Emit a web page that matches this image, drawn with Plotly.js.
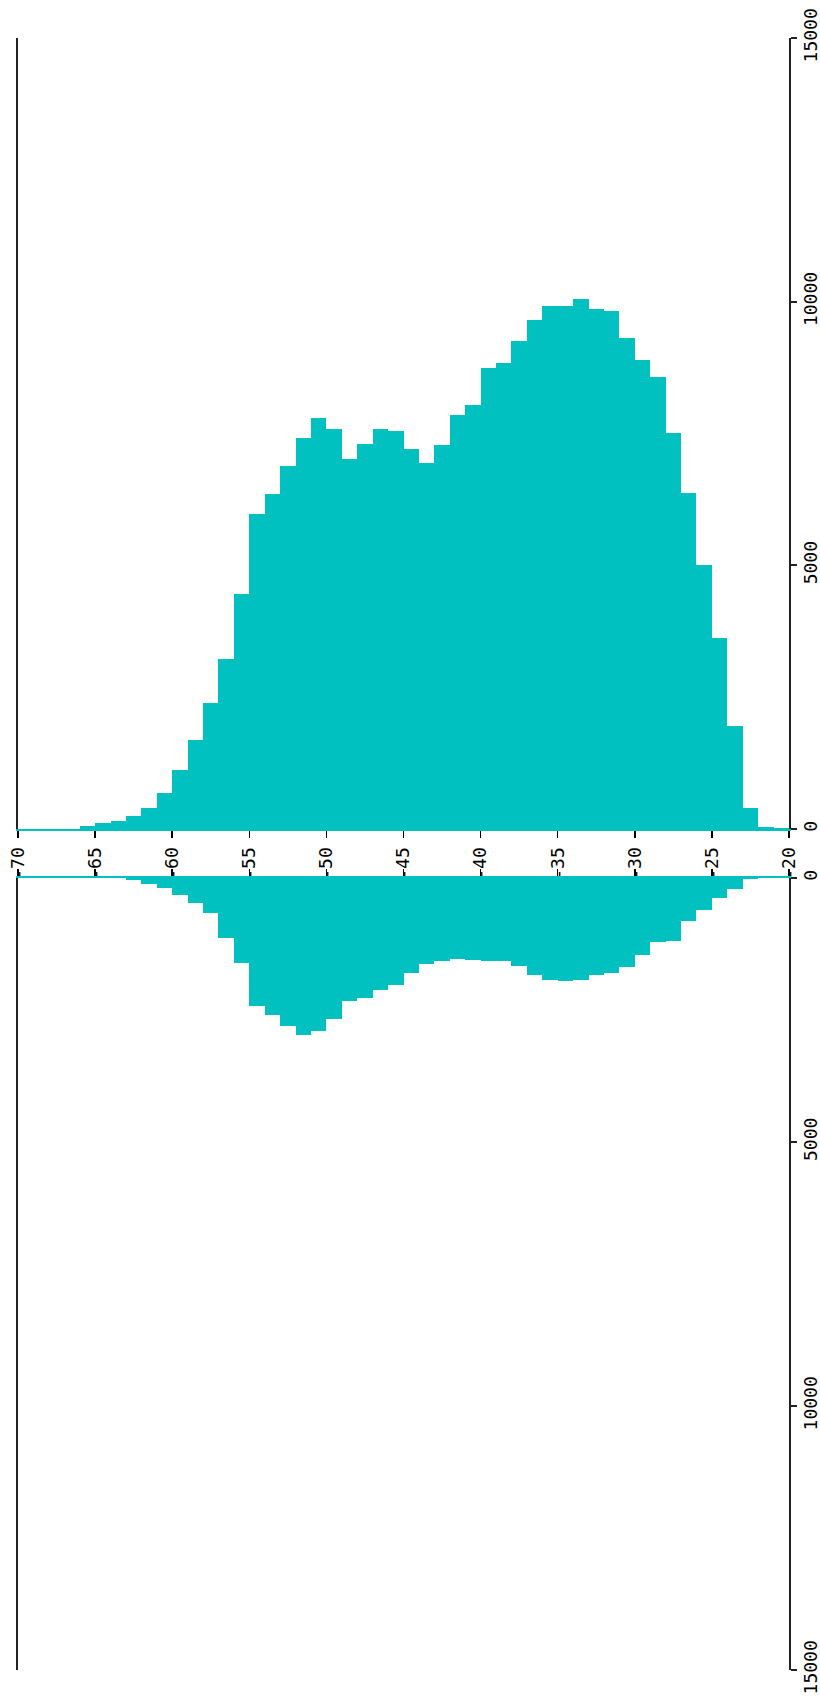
<!DOCTYPE html>
<html>
<head>
<meta charset="utf-8">
<script src="https://cdn.plot.ly/plotly-3.0.1.min.js"></script>
<style>html,body{margin:0;padding:0;background:#fff;}#chart{width:820px;height:1701px;}</style>
</head>
<body>
<div id="chart"></div>
<script>
// Bin left edges (width 1) from -70 to -21
var binStarts = [-70,-69,-68,-67,-66,-65,-64,-63,-62,-61,-60,-59,-58,-57,-56,-55,-54,-53,-52,-51,
                 -50,-49,-48,-47,-46,-45,-44,-43,-42,-41,-40,-39,-38,-37,-36,-35,-34,-33,-32,-31,
                 -30,-29,-28,-27,-26,-25,-24,-23,-22,-21];
// Upper histogram counts
var upperCounts = [0,0,0,0,50,115,145,250,390,680,1110,1680,2385,3215,4450,5975,6350,6880,7415,7785,
                   7580,7015,7310,7580,7550,7215,6950,7280,7850,8045,8740,8840,9255,9650,9915,9915,10050,9855,9820,9315,
                   8890,8580,7515,6380,5015,3620,1950,390,45,12];
// Lower histogram counts
var lowerCounts = [0,0,0,0,0,0,0,40,110,190,320,470,670,1140,1610,2430,2600,2810,2975,2900,
                   2675,2330,2265,2120,2030,1790,1620,1580,1530,1560,1575,1575,1660,1830,1925,1960,1925,1830,1790,1690,
                   1460,1210,1195,810,605,385,205,25,0,0];
var xTicks = [-70,-65,-60,-55,-50,-45,-40,-35,-30,-25,-20];
var yTicks = [0,5000,10000,15000];

var barColor = '#00C0C0';
var centers = binStarts.map(function(v){ return v + 0.5; });

var traces = [
  {type:'bar', x:centers, y:upperCounts, width:1, xaxis:'x', yaxis:'y',
   marker:{color:barColor, line:{width:0}}, hoverinfo:'x+y'},
  {type:'bar', x:centers, y:lowerCounts, width:1, xaxis:'x2', yaxis:'y2',
   marker:{color:barColor, line:{width:0}}, hoverinfo:'x+y'}
];

var font = {family:'DejaVu Sans Mono, monospace', size:18, color:'#000'};

var layout = {
  width:820, height:1701,
  margin:{l:18, r:31, t:38, b:31, pad:0},
  paper_bgcolor:'#fff', plot_bgcolor:'#fff',
  showlegend:false, bargap:0,
  font:font,
  xaxis:{domain:[0,1], anchor:'y', side:'bottom', range:[-70,-20],
         tickvals:xTicks, ticktext:xTicks.map(String), tickangle:-90,
         ticks:'outside', ticklen:7, tickwidth:1.5, tickcolor:'#000',
         ticklabelstandoff:2,
         showline:true, linecolor:barColor, linewidth:2,
         showgrid:false, zeroline:false, tickfont:font},
  yaxis:{domain:[0.5153,1], anchor:'x', side:'right', range:[0,15000],
         tickvals:yTicks, ticktext:yTicks.map(String), tickangle:-90,
         ticks:'outside', ticklen:6, tickwidth:2, tickcolor:'#222',
         ticklabelstandoff:-2,
         showline:true, linecolor:'#222', linewidth:2, mirror:true,
         showgrid:false, zeroline:false, tickfont:font},
  xaxis2:{domain:[0,1], anchor:'y2', side:'top', range:[-70,-20],
          tickvals:xTicks, showticklabels:false,
          ticks:'outside', ticklen:7, tickwidth:1.5, tickcolor:'#000',
          showline:true, linecolor:barColor, linewidth:2,
          showgrid:false, zeroline:false},
  yaxis2:{domain:[0,0.4853], anchor:'x2', side:'right', range:[15000,0],
          tickvals:yTicks, ticktext:yTicks.map(String), tickangle:-90,
          ticks:'outside', ticklen:6, tickwidth:2, tickcolor:'#222',
          ticklabelstandoff:-2,
          showline:true, linecolor:'#222', linewidth:2, mirror:true,
          showgrid:false, zeroline:false, tickfont:font}
};

Plotly.newPlot('chart', traces, layout, {displayModeBar:false, staticPlot:true});
</script>
</body>
</html>
